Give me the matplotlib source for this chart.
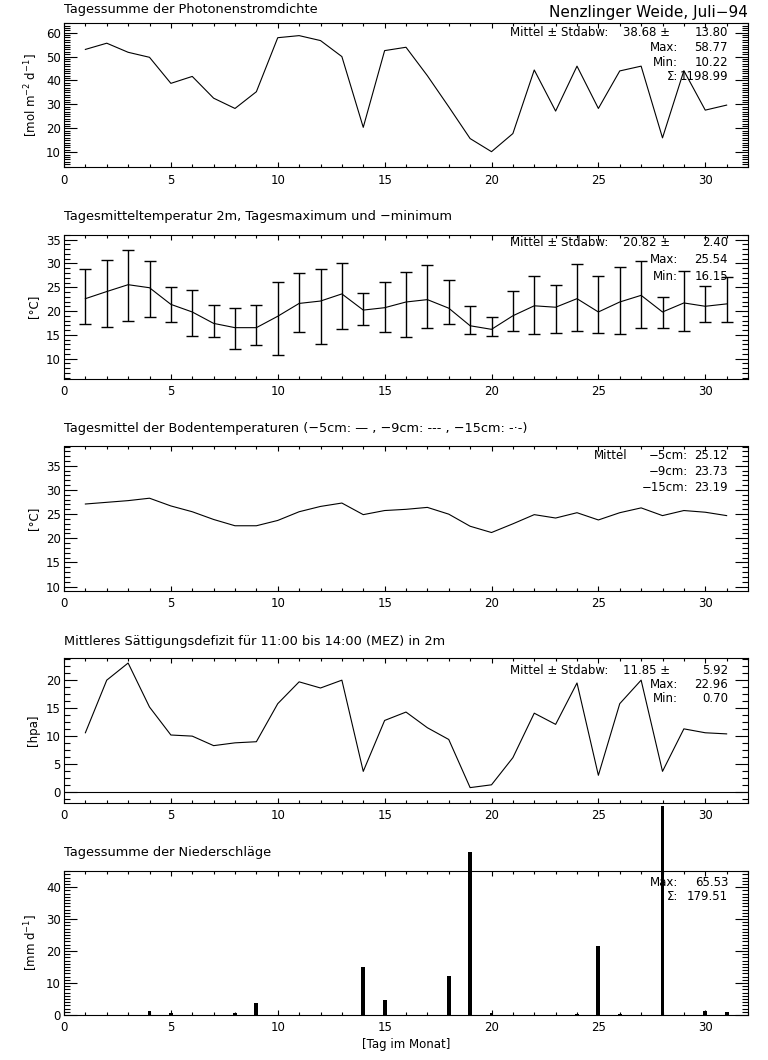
import matplotlib
matplotlib.use('Agg')
import matplotlib.pyplot as plt
from matplotlib.ticker import MultipleLocator
import numpy as np

# Nenzlinger Weide, Juli 1994 - daily values
days = np.arange(1, 32)

photon = [53.0, 55.6, 51.8, 49.7, 38.8, 41.7, 32.6, 28.3, 35.3, 57.9,
          58.77, 56.7, 50.0, 20.4, 52.5, 53.9, 42.0, 29.0, 15.7, 10.22,
          17.8, 44.4, 27.2, 46.0, 28.3, 44.0, 46.0, 16.0, 44.1, 27.6, 29.7]

t2m_mean = [22.6, 24.1, 25.54, 24.9, 21.4, 19.8, 17.4, 16.5, 16.5, 18.9,
            21.6, 22.1, 23.6, 20.2, 20.7, 21.9, 22.4, 20.6, 16.9, 16.15,
            19.0, 21.1, 20.8, 22.6, 19.8, 21.9, 23.3, 19.8, 21.7, 21.0, 21.5]
t2m_max = [28.9, 30.8, 32.9, 30.6, 25.1, 24.4, 21.2, 20.6, 21.2, 26.1,
           28.1, 28.9, 30.0, 23.7, 26.1, 28.3, 29.6, 26.5, 21.0, 18.75,
           24.2, 27.3, 25.4, 29.9, 27.3, 29.2, 30.5, 22.9, 28.5, 25.2, 27.1]
t2m_min = [17.2, 16.7, 17.9, 18.75, 17.7, 14.7, 14.6, 12.1, 12.8, 10.8,
           15.6, 13.1, 16.25, 17.1, 15.6, 14.5, 16.5, 17.3, 15.2, 14.65,
           15.9, 15.2, 15.35, 15.9, 15.4, 15.1, 16.5, 16.5, 15.9, 17.6, 17.6]

soil_5cm = [27.1, 27.45, 27.8, 28.3, 26.7, 25.5, 23.9, 22.6, 22.6, 23.7,
            25.5, 26.6, 27.3, 24.9, 25.75, 26.0, 26.4, 25.0, 22.5, 21.2,
            23.0, 24.9, 24.2, 25.3, 23.8, 25.3, 26.3, 24.7, 25.75, 25.4, 24.7]

vpd = [10.5, 19.9, 22.96, 15.1, 10.1, 9.9, 8.2, 8.7, 8.9, 15.7,
       19.6, 18.5, 19.9, 3.6, 12.7, 14.2, 11.4, 9.3, 0.70, 1.2,
       6.05, 14.0, 12.0, 19.4, 2.9, 15.7, 19.9, 3.6, 11.2, 10.5, 10.3]

rain = [0.0, 0.0, 0.0, 1.1, 0.6, 0.0, 0.0, 0.5, 3.9, 0.0,
        0.0, 0.0, 0.0, 14.9, 4.8, 0.0, 0.0, 12.3, 51.0, 0.7,
        0.0, 0.0, 0.0, 0.4, 21.6, 0.4, 0.0, 65.53, 0.0, 1.4, 1.0]

W, H = 768, 1060
fs = 8.5
tfs = 9.3

def fx(px):
  return px / W

def fy(py):
  return 1.0 - py / H

plt.rc('font', family='DejaVu Sans', size=fs)
fig = plt.figure(figsize=(W / 100.0, H / 100.0), dpi=100)

def make_axes(top, ylim, ymajor, yminor, ylabel):
  h = 144.5
  ax = fig.add_axes([fx(64), fy(top + h), fx(748) - fx(64), h / H])
  ax.set_xlim(0, 32)
  ax.set_ylim(*ylim)
  ax.xaxis.set_major_locator(MultipleLocator(5))
  ax.xaxis.set_minor_locator(MultipleLocator(1))
  ax.yaxis.set_major_locator(MultipleLocator(ymajor))
  ax.yaxis.set_minor_locator(MultipleLocator(yminor))
  ax.tick_params(axis='both', which='both', direction='in', top=True, right=True,
                 width=0.8, labelsize=fs)
  ax.tick_params(axis='x', which='major', length=3.6, pad=4.5)
  ax.tick_params(axis='x', which='minor', length=2.2)
  ax.tick_params(axis='y', which='major', length=9.6, pad=2.2)
  ax.tick_params(axis='y', which='minor', length=4.3)
  for s in ax.spines.values():
    s.set_linewidth(0.8)
  ax.set_ylabel(ylabel, fontsize=fs)
  ax.yaxis.set_label_coords(-0.035, 0.5)
  return ax

def title(base, s):
  fig.text(fx(64), fy(base), s, fontsize=tfs, va='baseline', ha='left')

def stats(rows):
  # rows: (y, [(x_right, text), ...])
  for y, cols in rows:
    for x, s in cols:
      fig.text(fx(x), fy(y), s, fontsize=fs, va='center', ha='right')

# photon flux density
ax1 = make_axes(23, (3.6, 64.05), 10, 1, '[mol m$^{-2}$ d$^{-1}$]')
ax1.plot(days, photon, color='black', lw=0.8)
title(13.3, 'Tagessumme der Photonenstromdichte')
fig.text(fx(748), fy(16.5), 'Nenzlinger Weide, Juli\u221294', fontsize=11, va='baseline', ha='right')
stats([(33, [(608, 'Mittel \u00b1 Stdabw:'), (670, '38.68 \u00b1'), (728, '13.80')]),
       (47.5, [(678, 'Max:'), (728, '58.77')]),
       (62, [(678, 'Min:'), (728, '10.22')]),
       (77, [(678, '\u03a3:'), (728, '1198.99')])])

# air temperature 2m
mean = np.array(t2m_mean)
ax2 = make_axes(234.5, (5.7, 36.1), 5, 1, '[\u00b0C]')
ax2.errorbar(days, mean, yerr=[mean - np.array(t2m_min), np.array(t2m_max) - mean],
             color='black', lw=0.8, elinewidth=1.0, capsize=4.2, capthick=1.0)
title(220, 'Tagesmitteltemperatur 2m, Tagesmaximum und \u2212minimum')
stats([(243, [(608, 'Mittel \u00b1 Stdabw:'), (670, '20.82 \u00b1'), (728, '2.40')]),
       (260, [(678, 'Max:'), (728, '25.54')]),
       (276.5, [(678, 'Min:'), (728, '16.15')])])

# soil temperature
ax3 = make_axes(446.5, (9.1, 39.0), 5, 1, '[\u00b0C]')
ax3.plot(days, soil_5cm, color='black', lw=0.8)
title(432, 'Tagesmittel der Bodentemperaturen (\u22125cm: \u2014 , \u22129cm: --- , \u221215cm: -\u00b7-)')
fig.text(fx(594), fy(455), 'Mittel', fontsize=fs, va='center', ha='left')
stats([(455, [(688, '\u22125cm:'), (728, '25.12')]),
       (471, [(688, '\u22129cm:'), (728, '23.73')]),
       (487, [(688, '\u221215cm:'), (728, '23.19')])])

# saturation deficit
ax4 = make_axes(658, (-1.96, 23.86), 5, 1.25, '[hpa]')
ax4.plot(days, vpd, color='black', lw=0.8)
ax4.axhline(0, color='black', lw=0.8)
title(645, 'Mittleres S\u00e4ttigungsdefizit f\u00fcr 11:00 bis 14:00 (MEZ) in 2m')
stats([(670, [(608, 'Mittel \u00b1 Stdabw:'), (670, '11.85 \u00b1'), (728, '5.92')]),
       (684, [(678, 'Max:'), (728, '22.96')]),
       (698, [(678, 'Min:'), (728, '0.70')])])

# precipitation
ax5 = make_axes(870.5, (0, 45.2), 10, 1, '[mm d$^{-1}$]')
title(856, 'Tagessumme der Niederschl\u00e4ge')
stats([(882, [(678, 'Max:'), (728, '65.53')]),
       (897, [(678, '\u03a3:'), (728, '179.51')])])
ax5.bar(days, rain, width=0.18, color='black', lw=0, clip_on=False, zorder=5)
ax5.set_xlabel('[Tag im Monat]', fontsize=fs, labelpad=3)

fig.savefig('out.png', dpi=100)
